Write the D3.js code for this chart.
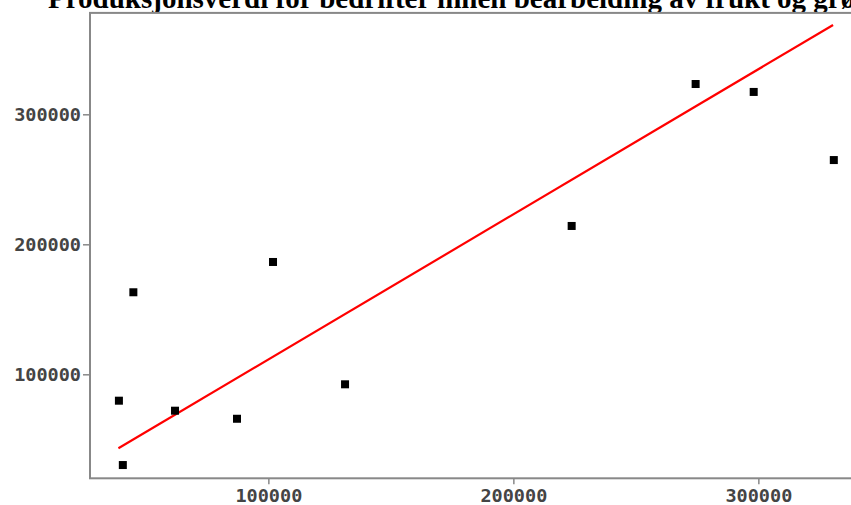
<!DOCTYPE html>
<html>
<head>
<meta charset="utf-8">
<script src="https://cdn.jsdelivr.net/npm/d3@7"></script>
<style>
  html, body { margin: 0; padding: 0; background: #fff; overflow: hidden; }
  svg { display: block; }
</style>
</head>
<body>
<svg id="chart" width="851" height="505"></svg>
<script>
// ---- data ----
const titleText = "Produksjonsverdi for bedrifter innen bearbeiding av frukt og grønnsaker";
const pointsX = [39000, 40600, 44900, 61900, 87200, 101900, 131300, 223800, 274400, 298100, 330800];
const pointsY = [79700, 30200, 163100, 72000, 65800, 186400, 92300, 214100, 323300, 317200, 264800];
const trendX = [38800, 330500];
const trendY = [43100, 368700];
const xTicks = [100000, 200000, 300000];
const yTicks = [100000, 200000, 300000];

(function () {
  const svg = d3.select("#chart");
  const mLeft = 90, mTop = 12.9, mBottom = 478.3, mRight = 868.6;

  const x = d3.scaleLinear().domain([27200, 345000]).range([mLeft, mRight]);
  const y = d3.scaleLinear().domain([20000, 378000]).range([mBottom, mTop]);

  // title
  svg.append("text")
    .attr("x", 48).attr("y", 8)
    .attr("font-family", "'Liberation Serif', 'Times New Roman', serif")
    .attr("font-weight", "bold")
    .attr("font-size", 29)
    .attr("fill", "#000")
    .text(titleText);

  // plot frame
  svg.append("rect")
    .attr("x", mLeft).attr("y", mTop)
    .attr("width", mRight - mLeft).attr("height", mBottom - mTop)
    .attr("fill", "#fff")
    .attr("stroke", "#888").attr("stroke-width", 2);

  const tickFont = "'DejaVu Sans Mono', monospace";

  // x axis
  const xAxis = svg.append("g")
    .attr("transform", `translate(0,${mBottom})`)
    .call(d3.axisBottom(x).tickValues(xTicks).tickFormat(d3.format("d")).tickSize(6).tickPadding(5));
  xAxis.select(".domain").remove();
  xAxis.selectAll("line").attr("stroke", "#888").attr("stroke-width", 1.5);
  xAxis.selectAll("text").attr("font-family", tickFont).attr("font-size", 18.5)
    .attr("font-weight", "bold").attr("fill", "#444");

  // y axis
  const yAxis = svg.append("g")
    .attr("transform", `translate(${mLeft},0)`)
    .call(d3.axisLeft(y).tickValues(yTicks).tickFormat(d3.format("d")).tickSize(7).tickPadding(2));
  yAxis.select(".domain").remove();
  yAxis.selectAll("line").attr("stroke", "#888").attr("stroke-width", 1.5);
  yAxis.selectAll("text").attr("font-family", tickFont).attr("font-size", 18.5)
    .attr("font-weight", "bold").attr("fill", "#444");

  // trend line
  const trend = trendX.map((d, i) => [d, trendY[i]]);
  svg.append("path")
    .datum(trend)
    .attr("d", d3.line().x(d => x(d[0])).y(d => y(d[1])))
    .attr("fill", "none")
    .attr("stroke", "#f00")
    .attr("stroke-width", 2.2);

  // points
  const pts = pointsX.map((d, i) => [d, pointsY[i]]);
  const s = 8;
  svg.append("g").selectAll("rect")
    .data(pts)
    .join("rect")
    .attr("x", d => x(d[0]) - s / 2)
    .attr("y", d => y(d[1]) - s / 2)
    .attr("width", s).attr("height", s)
    .attr("fill", "#000");
})();
</script>
</body>
</html>
